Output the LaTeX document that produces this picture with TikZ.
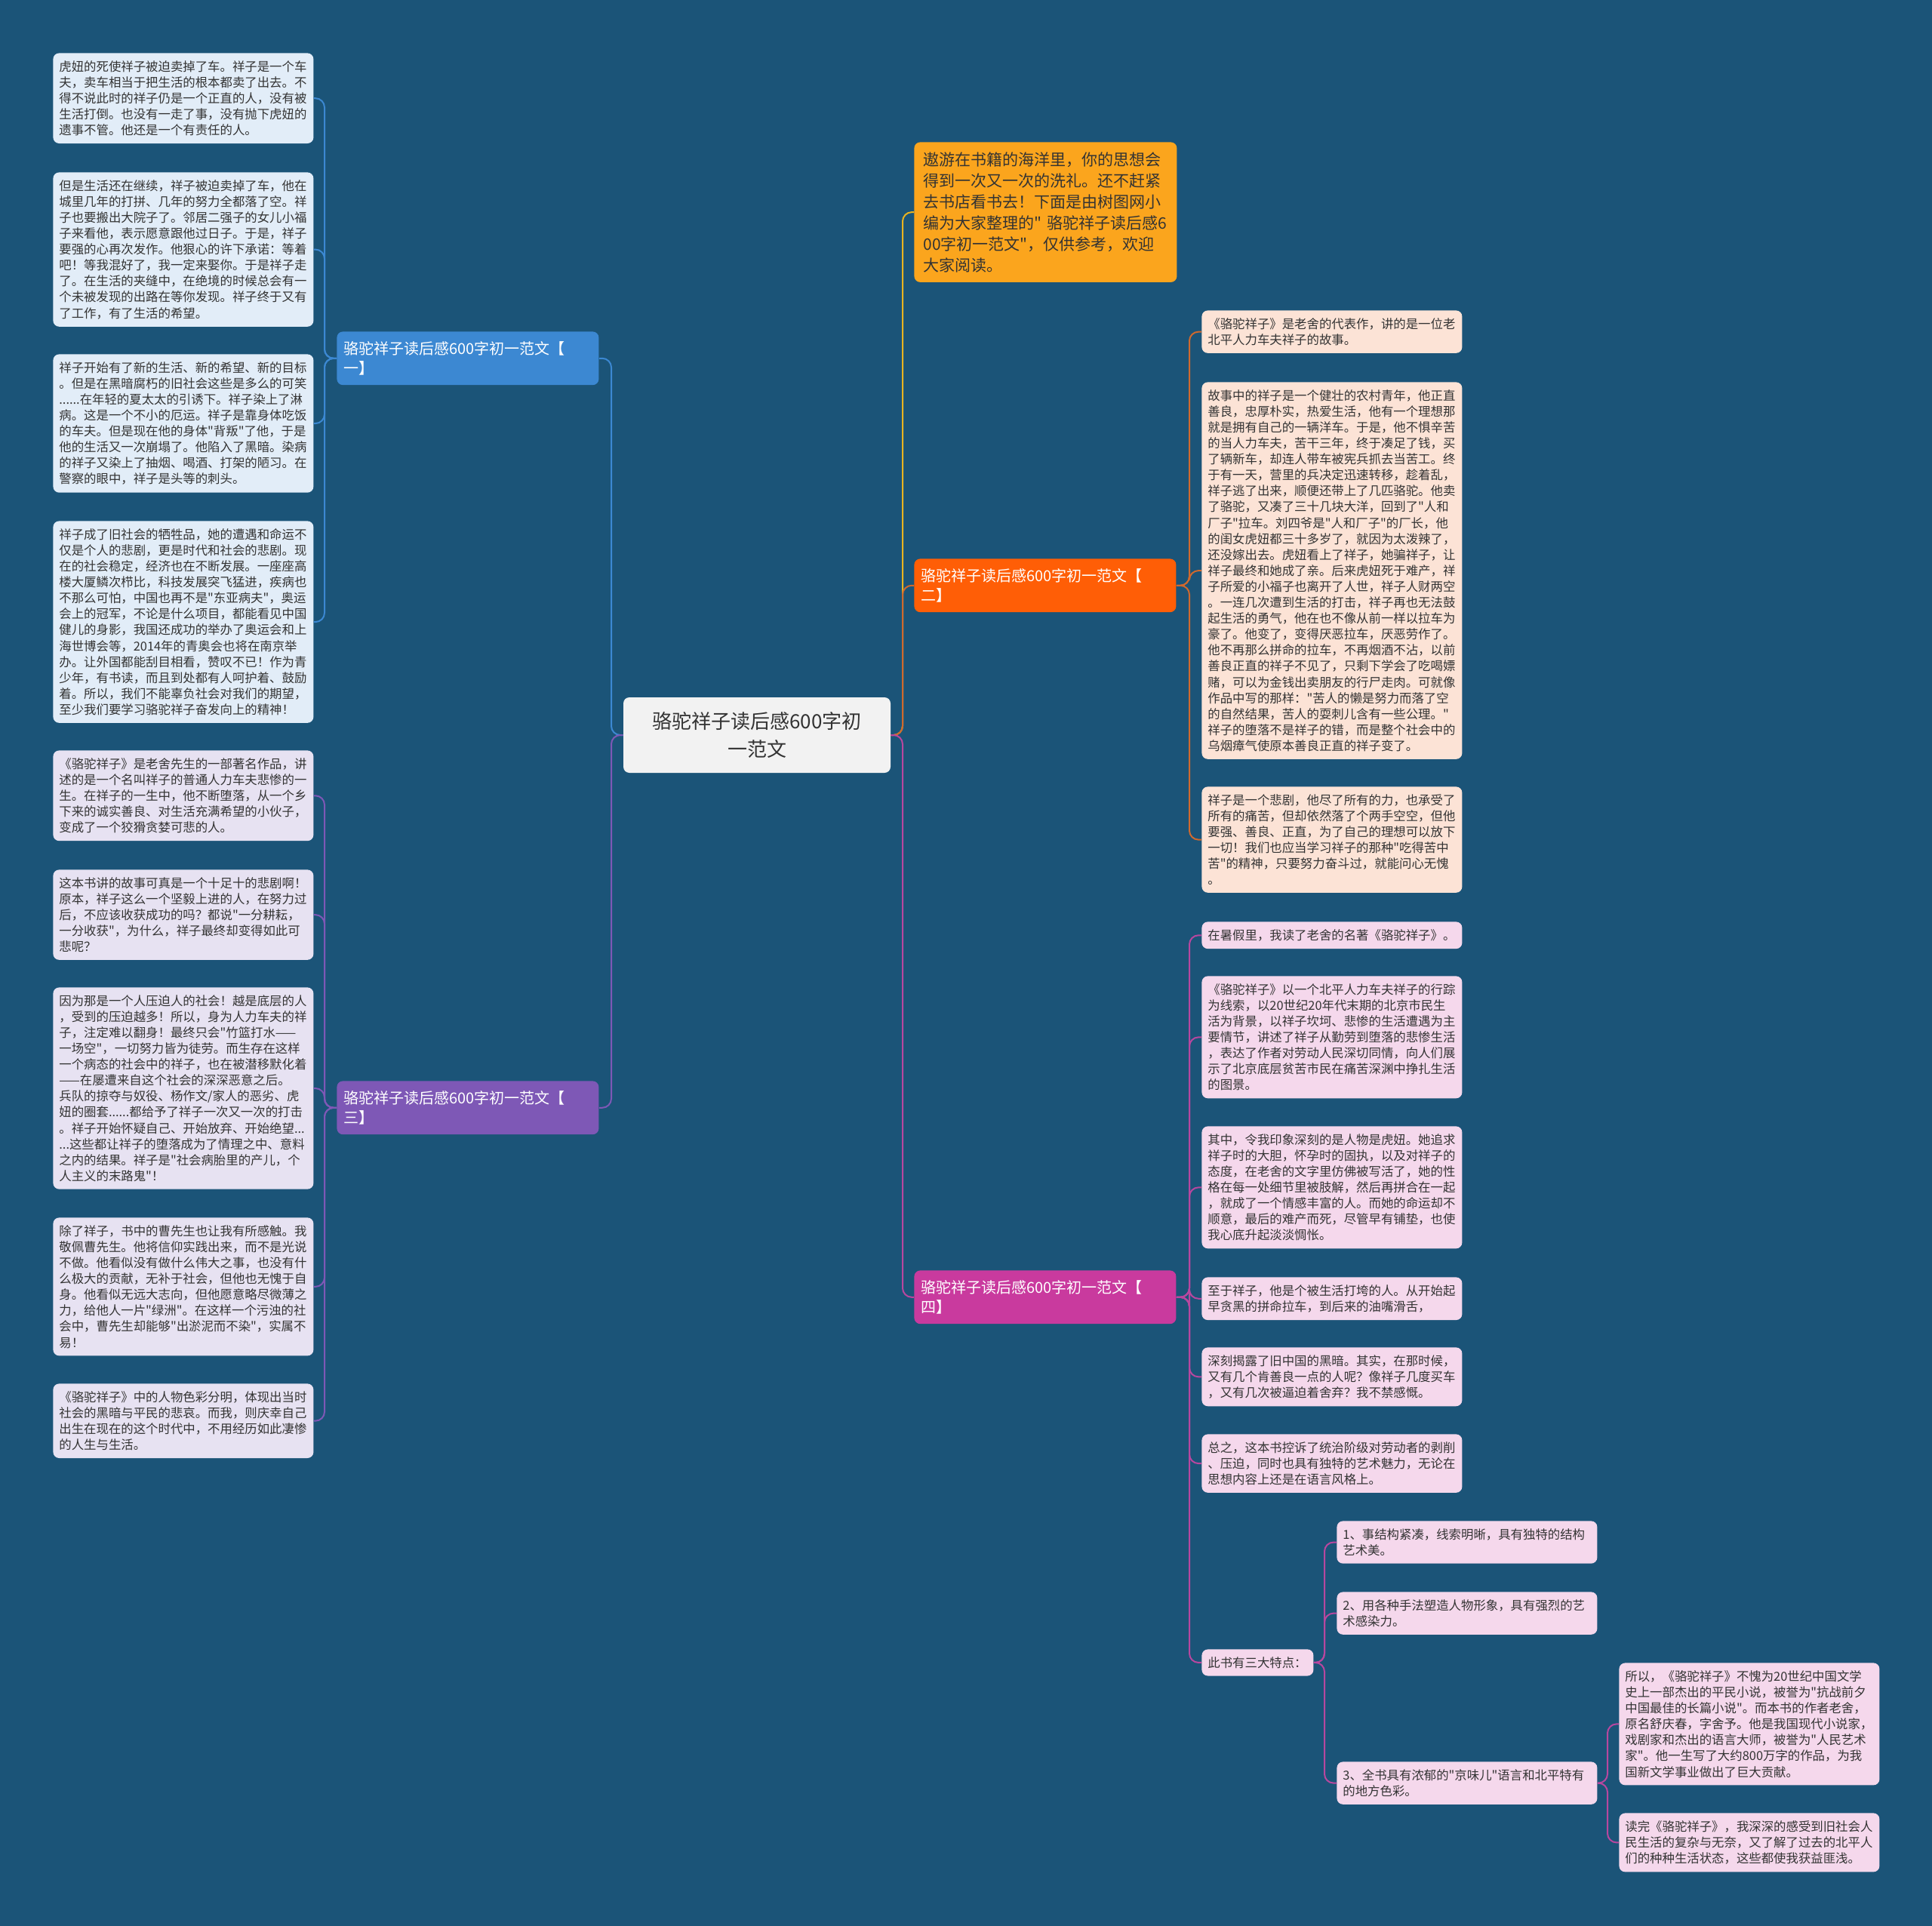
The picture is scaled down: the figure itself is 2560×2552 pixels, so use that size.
\documentclass[tikz,border=0pt]{standalone}
\usepackage{fontspec}
\newfontfamily\cjk{Noto Sans CJK SC}
\definecolor{bg}{HTML}{1B5478}
\definecolor{txt}{HTML}{333333}
\definecolor{cone}{HTML}{3C88D2}
\definecolor{cthree}{HTML}{7E58B6}
\definecolor{ctwo}{HTML}{FF5E06}
\definecolor{ctwoline}{HTML}{D0692E}
\definecolor{cfour}{HTML}{C93A9E}
\definecolor{cfourline}{HTML}{B8479F}
\definecolor{cintro}{HTML}{FBA51D}
\definecolor{cintroline}{HTML}{E8B321}
\definecolor{fone}{HTML}{E2EDF8}
\definecolor{fthree}{HTML}{E7E2F2}
\definecolor{ftwo}{HTML}{FCE3D6}
\definecolor{ffour}{HTML}{F5D8EC}
\definecolor{fcenter}{HTML}{F2F2F2}
\tikzset{
  leaf/.style={anchor=north west, rounded corners=4pt, inner xsep=4pt, inner ysep=5pt,
    text width=164.5pt, align=left, font=\cjk\fontsize{8.2}{10.55}\selectfont, text=txt},
  branchbox/.style={anchor=north west, rounded corners=4pt, inner xsep=4.5pt, inner ysep=6.5pt,
    text width=164.5pt, align=left, font=\cjk\fontsize{10}{13}\selectfont, text=white},
  conn/.style={line width=1pt, rounded corners=6pt},
}
\begin{document}
\begin{tikzpicture}[x=0.5pt,y=-0.5pt]
\useasboundingbox (0,0) rectangle (2560,2552);
\fill[bg] (0,0) rectangle (2560,2552);

% vertical trunk coordinates
\coordinate (vL) at (810,0);
\coordinate (vR) at (1196,0);
\coordinate (vone) at (430,0);
\coordinate (vtwo) at (1576,0);
\coordinate (vfeat) at (1755,0);
\coordinate (vthird) at (2130,0);

% center
\node[fill=fcenter, rounded corners=4pt, minimum width=177pt, minimum height=50pt, align=center,
  font=\cjk\fontsize{13}{18.8}\selectfont, text=txt] (c) at (1003,974) {骆驼祥子读后感600字初\\一范文};

% branches
\node[branchbox, fill=cintro, text=txt, inner xsep=6pt, inner ysep=6.5pt, text width=162pt,
  font=\cjk\fontsize{10.5}{14}\selectfont] (intro) at (1211,188) {遨游在书籍的海洋里，你的思想会\\得到一次又一次的洗礼。还不赶紧\\去书店看书去！下面是由树图网小\\编为大家整理的"~骆驼祥子读后感6\\00字初一范文"，仅供参考，欢迎\\大家阅读。};
\node[branchbox, fill=cone] (bone) at (446,439) {骆驼祥子读后感600字初一范文【\\一】};
\node[branchbox, fill=cthree] (bthree) at (446,1432) {骆驼祥子读后感600字初一范文【\\三】};
\node[branchbox, fill=ctwo] (btwo) at (1211,740) {骆驼祥子读后感600字初一范文【\\二】};
\node[branchbox, fill=cfour] (bfour) at (1211,1683) {骆驼祥子读后感600字初一范文【\\四】};

% branch 1 leaves
\node[leaf, fill=fone] (la) at (70,70) {虎妞的死使祥子被迫卖掉了车。祥子是一个车\\夫，卖车相当于把生活的根本都卖了出去。不\\得不说此时的祥子仍是一个正直的人，没有被\\生活打倒。也没有一走了事，没有抛下虎妞的\\遗事不管。他还是一个有责任的人。};
\node[leaf, fill=fone] (lb) at (70,228) {但是生活还在继续，祥子被迫卖掉了车，他在\\城里几年的打拼、几年的努力全都落了空。祥\\子也要搬出大院子了。邻居二强子的女儿小福\\子来看他，表示愿意跟他过日子。于是，祥子\\要强的心再次发作。他狠心的许下承诺：等着\\吧！等我混好了，我一定来娶你。于是祥子走\\了。在生活的夹缝中，在绝境的时候总会有一\\个未被发现的出路在等你发现。祥子终于又有\\了工作，有了生活的希望。};
\node[leaf, fill=fone] (lc) at (70,469) {祥子开始有了新的生活、新的希望、新的目标\\。但是在黑暗腐朽的旧社会这些是多么的可笑\\......在年轻的夏太太的引诱下。祥子染上了淋\\病。这是一个不小的厄运。祥子是靠身体吃饭\\的车夫。但是现在他的身体"背叛"了他，于是\\他的生活又一次崩塌了。他陷入了黑暗。染病\\的祥子又染上了抽烟、喝酒、打架的陋习。在\\警察的眼中，祥子是头等的刺头。};
\node[leaf, fill=fone] (ld) at (70,690) {祥子成了旧社会的牺牲品，她的遭遇和命运不\\仅是个人的悲剧，更是时代和社会的悲剧。现\\在的社会稳定，经济也在不断发展。一座座高\\楼大厦鳞次栉比，科技发展突飞猛进，疾病也\\不那么可怕，中国也再不是"东亚病夫"，奥运\\会上的冠军，不论是什么项目，都能看见中国\\健儿的身影，我国还成功的举办了奥运会和上\\海世博会等，2014年的青奥会也将在南京举\\办。让外国都能刮目相看，赞叹不已！作为青\\少年，有书读，而且到处都有人呵护着、鼓励\\着。所以，我们不能辜负社会对我们的期望，\\至少我们要学习骆驼祥子奋发向上的精神！};

% branch 3 leaves
\node[leaf, fill=fthree] (ma) at (70,994) {《骆驼祥子》是老舍先生的一部著名作品，讲\\述的是一个名叫祥子的普通人力车夫悲惨的一\\生。在祥子的一生中，他不断堕落，从一个乡\\下来的诚实善良、对生活充满希望的小伙子，\\变成了一个狡猾贪婪可悲的人。};
\node[leaf, fill=fthree] (mb) at (70,1152) {这本书讲的故事可真是一个十足十的悲剧啊！\\原本，祥子这么一个坚毅上进的人，在努力过\\后，不应该收获成功的吗？都说"一分耕耘，\\一分收获"，为什么，祥子最终却变得如此可\\悲呢？};
\node[leaf, fill=fthree] (mc) at (70,1308) {因为那是一个人压迫人的社会！越是底层的人\\，受到的压迫越多！所以，身为人力车夫的祥\\子，注定难以翻身！最终只会"竹篮打水——\\一场空"，一切努力皆为徒劳。而生存在这样\\一个病态的社会中的祥子，也在被潜移默化着\\——在屡遭来自这个社会的深深恶意之后。\\兵队的掠夺与奴役、杨作文/家人的恶劣、虎\\妞的圈套......都给予了祥子一次又一次的打击\\。祥子开始怀疑自己、开始放弃、开始绝望...\\...这些都让祥子的堕落成为了情理之中、意料\\之内的结果。祥子是"社会病胎里的产儿，个\\人主义的末路鬼"！};
\node[leaf, fill=fthree] (md) at (70,1613) {除了祥子，书中的曹先生也让我有所感触。我\\敬佩曹先生。他将信仰实践出来，而不是光说\\不做。他看似没有做什么伟大之事，也没有什\\么极大的贡献，无补于社会，但他也无愧于自\\身。他看似无远大志向，但他愿意略尽微薄之\\力，给他人一片"绿洲"。在这样一个污浊的社\\会中，曹先生却能够"出淤泥而不染"，实属不\\易！};
\node[leaf, fill=fthree] (me) at (70,1833) {《骆驼祥子》中的人物色彩分明，体现出当时\\社会的黑暗与平民的悲哀。而我，则庆幸自己\\出生在现在的这个时代中，不用经历如此凄惨\\的人生与生活。};

% branch 2 leaves
\node[leaf, fill=ftwo] (ra) at (1592,411) {《骆驼祥子》是老舍的代表作，讲的是一位老\\北平人力车夫祥子的故事。};
\node[leaf, fill=ftwo] (rb) at (1592,506) {故事中的祥子是一个健壮的农村青年，他正直\\善良，忠厚朴实，热爱生活，他有一个理想那\\就是拥有自己的一辆洋车。于是，他不惧辛苦\\的当人力车夫，苦干三年，终于凑足了钱，买\\了辆新车，却连人带车被宪兵抓去当苦工。终\\于有一天，营里的兵决定迅速转移，趁着乱，\\祥子逃了出来，顺便还带上了几匹骆驼。他卖\\了骆驼，又凑了三十几块大洋，回到了"人和\\厂子"拉车。刘四爷是"人和厂子"的厂长，他\\的闺女虎妞都三十多岁了，就因为太泼辣了，\\还没嫁出去。虎妞看上了祥子，她骗祥子，让\\祥子最终和她成了亲。后来虎妞死于难产，祥\\子所爱的小福子也离开了人世，祥子人财两空\\。一连几次遭到生活的打击，祥子再也无法鼓\\起生活的勇气，他在也不像从前一样以拉车为\\豪了。他变了，变得厌恶拉车，厌恶劳作了。\\他不再那么拼命的拉车，不再烟酒不沾，以前\\善良正直的祥子不见了，只剩下学会了吃喝嫖\\赌，可以为金钱出卖朋友的行尸走肉。可就像\\作品中写的那样："苦人的懒是努力而落了空\\的自然结果，苦人的耍刺儿含有一些公理。"\\祥子的堕落不是祥子的错，而是整个社会中的\\乌烟瘴气使原本善良正直的祥子变了。};
\node[leaf, fill=ftwo] (rc) at (1592,1042) {祥子是一个悲剧，他尽了所有的力，也承受了\\所有的痛苦，但却依然落了个两手空空，但他\\要强、善良、正直，为了自己的理想可以放下\\一切！我们也应当学习祥子的那种"吃得苦中\\苦"的精神，只要努力奋斗过，就能问心无愧\\。};

% branch 4 leaves
\node[leaf, fill=ffour] (pa) at (1592,1221) {在暑假里，我读了老舍的名著《骆驼祥子》。};
\node[leaf, fill=ffour] (pb) at (1592,1293) {《骆驼祥子》以一个北平人力车夫祥子的行踪\\为线索，以20世纪20年代末期的北京市民生\\活为背景，以祥子坎坷、悲惨的生活遭遇为主\\要情节，讲述了祥子从勤劳到堕落的悲惨生活\\，表达了作者对劳动人民深切同情，向人们展\\示了北京底层贫苦市民在痛苦深渊中挣扎生活\\的图景。};
\node[leaf, fill=ffour] (pc) at (1592,1492) {其中，令我印象深刻的是人物是虎妞。她追求\\祥子时的大胆，怀孕时的固执，以及对祥子的\\态度，在老舍的文字里仿佛被写活了，她的性\\格在每一处细节里被肢解，然后再拼合在一起\\，就成了一个情感丰富的人。而她的命运却不\\顺意，最后的难产而死，尽管早有铺垫，也使\\我心底升起淡淡惆怅。};
\node[leaf, fill=ffour] (pd) at (1592,1692) {至于祥子，他是个被生活打垮的人。从开始起\\早贪黑的拼命拉车，到后来的油嘴滑舌，};
\node[leaf, fill=ffour] (pe) at (1592,1785) {深刻揭露了旧中国的黑暗。其实，在那时候，\\又有几个肯善良一点的人呢？像祥子几度买车\\，又有几次被逼迫着舍弃？我不禁感慨。};
\node[leaf, fill=ffour] (pf) at (1592,1900) {总之，这本书控诉了统治阶级对劳动者的剥削\\、压迫，同时也具有独特的艺术魅力，无论在\\思想内容上还是在语言风格上。};
\node[leaf, fill=ffour, text width=66pt] (pg) at (1592,2185) {此书有三大特点：};
\node[leaf, fill=ffour] (sa) at (1771,2015) {1、事结构紧凑，线索明晰，具有独特的结构\\艺术美。};
\node[leaf, fill=ffour] (sb) at (1771,2109) {2、用各种手法塑造人物形象，具有强烈的艺\\术感染力。};
\node[leaf, fill=ffour] (sc) at (1771,2334) {3、全书具有浓郁的"京味儿"语言和北平特有\\的地方色彩。};
\node[leaf, fill=ffour] (fa) at (2145,2203) {所以，《骆驼祥子》不愧为20世纪中国文学\\史上一部杰出的平民小说，被誉为"抗战前夕\\中国最佳的长篇小说"。而本书的作者老舍，\\原名舒庆春，字舍予。他是我国现代小说家，\\戏剧家和杰出的语言大师，被誉为"人民艺术\\家"。他一生写了大约800万字的作品，为我\\国新文学事业做出了巨大贡献。};
\node[leaf, fill=ffour] (fb) at (2145,2402) {读完《骆驼祥子》，我深深的感受到旧社会人\\民生活的复杂与无奈，又了解了过去的北平人\\们的种种生活状态，这些都使我获益匪浅。};

% connectors: center to branches
\draw[conn, cone] (c.west) -- (c.west -| vL) |- (bone.east);
\draw[conn, cthree] (c.west) -- (c.west -| vL) |- (bthree.east);
\draw[conn, cintroline] (c.east) -- (c.east -| vR) |- (intro.west);
\draw[conn, ctwoline] (c.east) -- (c.east -| vR) |- (btwo.west);
\draw[conn, cfourline] (c.east) -- (c.east -| vR) |- (bfour.west);

% branch 1
\foreach \n in {la,lb,lc,ld} \draw[conn, cone] (bone.west) -- (bone.west -| vone) |- (\n.east);
% branch 3
\foreach \n in {ma,mb,mc,md,me} \draw[conn, cthree] (bthree.west) -- (bthree.west -| vone) |- (\n.east);
% branch 2
\foreach \n in {ra,rb,rc} \draw[conn, ctwoline] (btwo.east) -- (btwo.east -| vtwo) |- (\n.west);
% branch 4
\foreach \n in {pa,pb,pc,pd,pe,pf,pg} \draw[conn, cfourline] (bfour.east) -- (bfour.east -| vtwo) |- (\n.west);
\foreach \n in {sa,sb,sc} \draw[conn, cfourline] (pg.east) -- (pg.east -| vfeat) |- (\n.west);
\foreach \n in {fa,fb} \draw[conn, cfourline] (sc.east) -- (sc.east -| vthird) |- (\n.west);
\end{tikzpicture}
\end{document}
